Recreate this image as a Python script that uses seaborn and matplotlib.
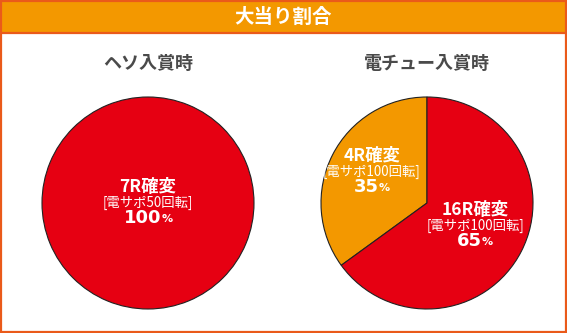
import matplotlib
matplotlib.use("Agg")
import matplotlib.pyplot as plt
import seaborn as sns
from matplotlib.patches import Rectangle

sns.set_theme(style="white")
plt.rcParams['font.family'] = ['Noto Sans CJK JP', 'DejaVu Sans']

# ---- data ----
chart_title = "大当り割合"
pie_titles = ["ヘソ入賞時", "電チュー入賞時"]
left_labels = ["7R確変"]
left_sub = ["[電サポ50回転]"]
left_values = [100]
right_labels = ["4R確変", "16R確変"]
right_sub = ["[電サポ100回転]", "[電サポ100回転]"]
right_values = [35, 65]

RED = "#E60012"
ORANGE = "#F39800"
BORDER = "#EA5A1A"

W, H = 567, 333
fig = plt.figure(figsize=(W / 100, H / 100), dpi=100)
fig.patch.set_facecolor("white")

# header bar
fig.patches.append(Rectangle((0, 1 - 33 / H), 1, 33 / H, transform=fig.transFigure,
                             facecolor=ORANGE, edgecolor="none", zorder=0))
fig.lines.append(plt.Line2D([0, 1], [1 - 33 / H, 1 - 33 / H], transform=fig.transFigure,
                            color=BORDER, lw=1.6))
fig.patches.append(Rectangle((0.7 / W, 0.7 / H), 1 - 1.4 / W, 1 - 1.4 / H, transform=fig.transFigure,
                             facecolor="none", edgecolor=BORDER, lw=1.6, zorder=5))
fig.text(0.5, 1 - 17 / H, chart_title, ha="center", va="center", color="white",
         fontsize=14, fontweight="bold")

R = 106
centers = [(148, 203), (427, 203)]


def px(x, y):
    return x / W, 1 - y / H


def make_ax(cx, cy):
    ax = fig.add_axes([(cx - R) / W, (H - cy - R) / H, 2 * R / W, 2 * R / H])
    ax.set_aspect("equal")
    ax.axis("off")
    return ax


ax1 = make_ax(*centers[0])
ax1.pie(left_values, colors=[RED], startangle=90, radius=1.0,
        wedgeprops=dict(edgecolor="#222222", linewidth=0.8))
ax1.set_xlim(-1.0, 1.0)
ax1.set_ylim(-1.0, 1.0)

ax2 = make_ax(*centers[1])
ax2.pie(right_values, colors=[ORANGE, RED], startangle=90, counterclock=True, radius=1.0,
        wedgeprops=dict(edgecolor="#222222", linewidth=0.8))
ax2.set_xlim(-1.0, 1.0)
ax2.set_ylim(-1.0, 1.0)

# pie titles
for (cx, _), t in zip(centers, pie_titles):
    fig.text(*px(cx, 63), t, ha="center", va="center", color="#4a4a4a",
             fontsize=13, fontweight="bold")

renderer = fig.canvas.get_renderer()


def pct_text(cx, cy, value):
    num = fig.text(*px(cx, cy), str(value), ha="right", va="center", color="white",
                   fontsize=13, fontweight="bold", family=["DejaVu Sans"])
    pc = fig.text(*px(cx, cy + 1), "%", ha="left", va="center", color="white",
                  fontsize=8, fontweight="bold", family=["DejaVu Sans"])
    w1 = num.get_window_extent(renderer).width
    w2 = pc.get_window_extent(renderer).width
    shift = (w1 - w2) / 2
    num.set_position(px(cx + shift, cy))
    pc.set_position(px(cx + shift, cy + 1))


def label(cx, cy, head, sub, value):
    fig.text(*px(cx, cy - 16), head, ha="center", va="center", color="white",
             fontsize=12.5, fontweight="bold")
    fig.text(*px(cx, cy), sub, ha="center", va="center", color="white",
             fontsize=9.6, fontweight="normal")
    pct_text(cx, cy + 15, value)


label(148, 203, left_labels[0], left_sub[0], left_values[0])
label(372, 172, right_labels[0], right_sub[0], right_values[0])
label(475, 226, right_labels[1], right_sub[1], right_values[1])

fig.savefig("out.png", dpi=100, facecolor=fig.get_facecolor())
